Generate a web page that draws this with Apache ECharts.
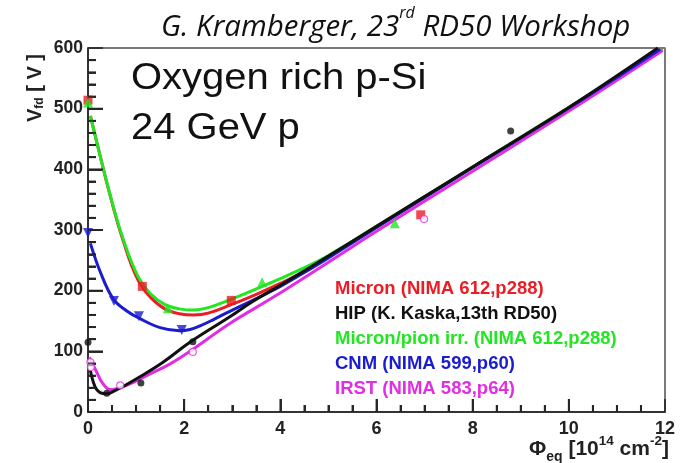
<!DOCTYPE html>
<html><head><meta charset="utf-8">
<script src="https://cdn.jsdelivr.net/npm/echarts@6/dist/echarts.min.js"></script>
<style>html,body{margin:0;padding:0;background:#fff}#c{width:687px;height:463px}</style>
</head><body><div id="c"></div>
<script>
// ---------- data ----------
const seriesNames = ['Micron (NIMA 612,p288)', 'HIP (K. Kaska,13th RD50)', 'Micron/pion irr. (NIMA 612,p288)', 'CNM (NIMA 599,p60)', 'IRST (NIMA 583,p64)'];
const xTicks = [0, 2, 4, 6, 8, 10, 12];
const yTicks = [0, 100, 200, 300, 400, 500, 600];

const micronPts = [[0, 514], [1.13, 207], [2.98, 184], [6.92, 325]];
const hipPts = [[0, 115], [0.39, 31], [1.1, 48], [2.18, 116], [8.79, 463]];
const pionPts = [[0, 510], [1.66, 171], [3.62, 214], [6.38, 311]];
const cnmPts = [[0, 295], [0.54, 183], [1.06, 158], [1.95, 135]];
const irstPts = [[0.06, 74], [0.05, 82], [0.67, 44], [2.18, 99], [6.99, 318]];

const micronFit = [[0.05, 488], [0.25, 423], [0.42, 369], [0.6, 316], [0.75, 278], [0.9, 243], [1.08, 212], [1.3, 189], [1.6, 170], [1.9, 162], [2.2, 160], [2.5, 163], [2.95, 176], [3.5, 194], [4.0, 212], [4.5, 232], [5.0, 256], [6.0, 305], [8.0, 404], [10.0, 502], [11.95, 598]];
const pionFit = [[0.05, 488], [0.25, 423], [0.42, 370], [0.6, 318], [0.75, 281], [0.9, 248], [1.08, 218], [1.3, 195], [1.6, 177], [1.9, 170], [2.2, 168], [2.5, 172], [2.95, 185], [3.5, 203], [4.0, 220], [4.5, 238], [5.0, 258], [6.0, 306], [8.0, 404], [10.0, 502], [11.95, 598]];
const cnmFit = [[0.05, 278], [0.25, 232], [0.52, 187], [0.8, 167], [1.08, 154], [1.5, 139], [1.9, 134], [2.12, 136], [2.33, 142], [2.6, 152], [2.95, 166], [3.5, 187], [4.0, 207], [4.5, 230], [5.0, 254], [6.0, 304], [8.0, 403], [10.0, 501], [11.9, 598]];
const hipFit = [[0.05, 68], [0.15, 41], [0.25, 32], [0.39, 30], [0.55, 35], [0.73, 42], [1.08, 58], [1.56, 82], [2.12, 115], [2.95, 157], [3.4, 181], [4.0, 209], [5.0, 257], [6.0, 306], [8.0, 404], [10.0, 502], [11.85, 600]];
const irstFit = [[0.03, 90], [0.18, 66], [0.3, 48], [0.46, 37], [0.8, 44], [1.22, 60], [1.7, 79], [2.12, 100], [2.95, 146], [3.85, 189], [5.0, 247], [6.0, 298], [8.0, 397], [10.0, 496], [11.95, 596]];

const colors = { micron: '#ec1c24', hip: '#111111', pion: '#22e622', cnm: '#1c1ccf', irst: '#e22ee2' };
const FONT = '"Liberation Sans", Arial, sans-serif';

// plot frame (top and right edges) from the axis extents
const xMax = xTicks[xTicks.length - 1], yMax = yTicks[yTicks.length - 1];
const frameLine = [[0, yMax], [xMax, yMax], [xMax, 0]];

// tick marks: major from the tick arrays, minor subdivisions
const xMinorStep = 0.5, yMinorStep = 20;
const xTickMarks = [], yTickMarks = [];
for (let i = 0; i <= 24; i++) {
  const v = i * xMinorStep, L = xTicks.includes(v) ? 13 : 7;
  xTickMarks.push({ value: [v, 0], symbolSize: [2, L], symbolOffset: [0, -L / 2] });
}
for (let i = 0; i <= 30; i++) {
  const v = i * yMinorStep, L = yTicks.includes(v) ? 15 : 8;
  yTickMarks.push({ value: [0, v], symbolSize: [L, 2], symbolOffset: [L / 2, 0] });
}

const chart = echarts.init(document.getElementById('c'), null, { renderer: 'canvas' });

function fitSeries(name, data, color, w) {
  return { name, type: 'line', data, smooth: 0.4, showSymbol: false, symbol: 'none',
    lineStyle: { color, width: w }, itemStyle: { color }, silent: true, clip: true, z: 3 };
}
function ptSeries(name, data, color, symbol, size, extra) {
  return Object.assign({ name, type: 'scatter', data, symbol, symbolSize: size,
    itemStyle: { color }, clip: false, z: 4 }, extra || {});
}
function axisOpt(kind, min, max, interval) {
  return {
    type: 'value', min, max, interval,
    axisLine: { show: true, onZero: false, lineStyle: { color: '#333', width: 2 } },
    axisTick: { show: true, inside: true, length: kind === 'x' ? 13 : 15, lineStyle: { color: '#333', width: 2 } },
    minorTick: { show: true, splitNumber: kind === 'x' ? 4 : 5, length: kind === 'x' ? 7 : 8, lineStyle: { color: '#333', width: 2 } },
    splitLine: { show: false },
    axisLabel: { margin: kind === 'x' ? 8 : 5, fontFamily: FONT, fontWeight: 'bold',
      fontSize: kind === 'x' ? 18 : 17.5, color: '#222',
      formatter: v => (kind === 'x' ? xTicks : yTicks).includes(v) ? String(v) : '' }
  };
}

const option = {
  animation: false,
  backgroundColor: '#fff',
  grid: { left: 88, right: 22, top: 48, bottom: 51 },
  xAxis: axisOpt('x', 0, 12, 2),
  yAxis: axisOpt('y', 0, 600, 100),
  legend: {
    orient: 'vertical', left: 325, top: 274, itemGap: 6, itemWidth: 0, itemHeight: 14,
    icon: 'rect', itemStyle: { opacity: 0 }, selectedMode: false,
    textStyle: { fontFamily: FONT, fontWeight: 'bold', fontSize: 18.5, lineHeight: 18 },
    data: [
      { name: seriesNames[0], textStyle: { color: colors.micron } },
      { name: seriesNames[1], textStyle: { color: colors.hip } },
      { name: seriesNames[2], textStyle: { color: colors.pion } },
      { name: seriesNames[3], textStyle: { color: colors.cnm } },
      { name: seriesNames[4], textStyle: { color: colors.irst } }
    ]
  },
  series: [
    { type: 'line', name: 'frame', data: frameLine, symbol: 'none', showSymbol: false, silent: true, clip: false,
      lineStyle: { color: '#7a7a7a', width: 2 }, z: 2 },
    fitSeries(seriesNames[0], micronFit, colors.micron, 3),
    fitSeries(seriesNames[2], pionFit, colors.pion, 3),
    fitSeries(seriesNames[4], irstFit, colors.irst, 3),
    fitSeries(seriesNames[3], cnmFit, colors.cnm, 3),
    fitSeries(seriesNames[1], hipFit, colors.hip, 3),
    ptSeries(seriesNames[0], micronPts, colors.micron, 'rect', 9),
    ptSeries(seriesNames[2], pionPts, colors.pion, 'triangle', 10),
    ptSeries(seriesNames[3], cnmPts, colors.cnm, 'triangle', 10, { symbolRotate: 180 }),
    ptSeries(seriesNames[4], irstPts, colors.irst, 'circle', 7, { itemStyle: { color: '#fff', borderColor: colors.irst, borderWidth: 1.2 } }),
    ptSeries(seriesNames[1], hipPts, colors.hip, 'circle', 7),
    { type: 'scatter', name: 'xTickMarks', data: xTickMarks, symbol: 'rect', itemStyle: { color: '#222' }, silent: true, clip: false, z: 6 },
    { type: 'scatter', name: 'yTickMarks', data: yTickMarks, symbol: 'rect', itemStyle: { color: '#222' }, silent: true, clip: false, z: 6 }
  ],
  graphic: [
    { type: 'text', left: 161, top: 5, style: {
        text: '{a|G. Kramberger, 23}{s|rd}{a| RD50 Workshop}', fill: '#111',
        rich: { a: { fontFamily: '"Open Sans", sans-serif', fontStyle: 'italic', fontSize: 29.5, verticalAlign: 'bottom', lineHeight: 38 },
                s: { fontFamily: '"Open Sans", sans-serif', fontStyle: 'italic', fontSize: 16, verticalAlign: 'top', lineHeight: 38 } } } },
    { type: 'text', left: 131, top: 61, scaleX: 1.11, style: { text: 'Oxygen rich p-Si', fontFamily: FONT, fontSize: 36, fill: '#111' } },
    { type: 'text', left: 131, top: 111, scaleX: 1.11, style: { text: '24 GeV p', fontFamily: FONT, fontSize: 36, fill: '#111' } },
    { type: 'text', x: 24, y: 122, rotation: Math.PI / 2, style: {
        text: '{a|V}{b|fd}{a| [ V ]}', fill: '#222',
        rich: { a: { fontFamily: FONT, fontWeight: 'bold', fontSize: 20, verticalAlign: 'middle', lineHeight: 22 },
                b: { fontFamily: FONT, fontWeight: 'bold', fontSize: 12, verticalAlign: 'bottom', lineHeight: 22 } } } },
    { type: 'text', left: 529, top: 434, style: {
        text: '{a|Φ}{b|eq}{a| [10}{c|14}{a| cm}{c|-2}{a|]}', fill: '#222',
        rich: { a: { fontFamily: FONT, fontWeight: 'bold', fontSize: 21, verticalAlign: 'middle', lineHeight: 30 },
                b: { fontFamily: FONT, fontWeight: 'bold', fontSize: 14, verticalAlign: 'bottom', lineHeight: 30 },
                c: { fontFamily: FONT, fontWeight: 'bold', fontSize: 13.5, verticalAlign: 'top', lineHeight: 30 } } } }
  ]
};
chart.setOption(option);
chart.getZr().refreshImmediately();
</script></body></html>
